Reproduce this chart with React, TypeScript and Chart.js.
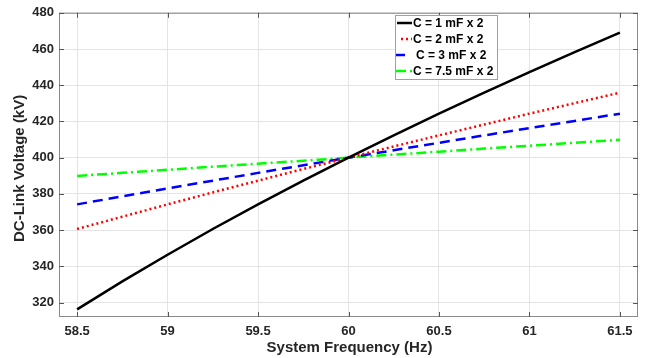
import React, { useEffect, useRef } from "react";
import { Chart, registerables } from "chart.js";

Chart.register(...registerables);

const freq = [58.5, 58.75, 59, 59.25, 59.5, 59.75, 60, 60.25, 60.5, 60.75, 61, 61.25, 61.5];
const c1 = [316.2, 331.7, 346.4, 360.6, 374.2, 387.3, 400, 412.3, 424.3, 435.9, 447.2, 458.3, 469.0];
const c2 = [360.6, 367.4, 374.2, 380.8, 387.3, 393.7, 400, 406.2, 412.3, 418.3, 424.3, 430.1, 435.9];
const c3 = [374.2, 378.6, 383.0, 387.3, 391.6, 395.8, 400, 404.1, 408.2, 412.3, 416.3, 420.3, 424.3];
const c75 = [389.9, 391.6, 393.3, 395.0, 396.7, 398.3, 400, 401.7, 403.3, 405.0, 406.6, 408.2, 409.9];

const seriesLabels = ["C = 1 mF x 2", "C = 2 mF x 2", "C = 3 mF x 2", "C = 7.5 mF x 2"];
const xTicks = [58.5, 59, 59.5, 60, 60.5, 61, 61.5];
const yTicks = [320, 340, 360, 380, 400, 420, 440, 460, 480];
const xTitle = "System Frequency (Hz)";
const yTitle = "DC-Link Voltage (kV)";

const FONT = "'Liberation Sans', Arial, sans-serif";
const colors = ["#000000", "#ff0000", "#0000ff", "#00ff00"];
const dashes = [[], [2, 3], [10, 6], [10, 4, 2, 4]];

const framePlugin = {
  id: "frame",
  afterDraw(chart: any) {
    const { ctx, chartArea: a, scales } = chart;
    ctx.save();
    ctx.strokeStyle = "#8a8a8a";
    ctx.lineWidth = 1;
    ctx.strokeRect(a.left + 0.5, a.top + 0.5, a.right - a.left - 1, a.bottom - a.top - 1);
    ctx.strokeStyle = "#555";
    for (const v of xTicks) {
      const x = Math.round(scales.x.getPixelForValue(v)) + 0.5;
      ctx.beginPath();
      ctx.moveTo(x, a.bottom);
      ctx.lineTo(x, a.bottom - 5);
      ctx.moveTo(x, a.top);
      ctx.lineTo(x, a.top + 5);
      ctx.stroke();
    }
    for (const v of yTicks) {
      const y = Math.round(scales.y.getPixelForValue(v)) + 0.5;
      ctx.beginPath();
      ctx.moveTo(a.left, y);
      ctx.lineTo(a.left + 5, y);
      ctx.moveTo(a.right, y);
      ctx.lineTo(a.right - 5, y);
      ctx.stroke();
    }
    // axis titles
    ctx.fillStyle = "#262626";
    ctx.font = `bold 15px ${FONT}`;
    ctx.textAlign = "center";
    ctx.textBaseline = "middle";
    ctx.fillText(xTitle, (a.left + a.right) / 2 + 1, 348);
    ctx.save();
    ctx.translate(19.5, (a.top + a.bottom) / 2 + 3.5);
    ctx.rotate(-Math.PI / 2);
    ctx.fillText(yTitle, 0, 0);
    ctx.restore();
    // legend
    const bx = 395.5, by = 15.5, bw = 102, bh = 64;
    ctx.fillStyle = "#ffffff";
    ctx.fillRect(bx, by, bw, bh);
    ctx.strokeStyle = "#a0a0a0";
    ctx.lineWidth = 1;
    ctx.strokeRect(bx, by, bw, bh);
    ctx.font = `bold 12px ${FONT}`;
    ctx.textBaseline = "middle";
    ctx.textAlign = "left";
    const rows = [23, 39, 55, 71];
    const samples = [[397, 412], [401, 412], [396, 405], [396, 412]];
    const textX = [413, 413, 416, 413];
    seriesLabels.forEach((lab, i) => {
      ctx.strokeStyle = colors[i];
      ctx.lineWidth = 2.5;
      ctx.setLineDash(dashes[i]);
      ctx.beginPath();
      ctx.moveTo(samples[i][0], rows[i]);
      ctx.lineTo(samples[i][1], rows[i]);
      ctx.stroke();
      ctx.setLineDash([]);
      ctx.fillStyle = "#000";
      ctx.fillText(lab, textX[i], rows[i] + 0.5);
    });
    ctx.restore();
  },
};

export default function App() {
  const ref = useRef<HTMLCanvasElement>(null);
  useEffect(() => {
    if (!ref.current) return;
    const all = [c1, c2, c3, c75];
    const chart = new Chart(ref.current, {
      type: "line",
      data: {
        datasets: all.map((vals, i) => ({
          label: seriesLabels[i],
          data: freq.map((f, j) => ({ x: f, y: vals[j] })),
          borderColor: colors[i],
          borderWidth: 2.5,
          borderDash: dashes[i],
          pointRadius: 0,
          fill: false,
          tension: 0,
        })),
      },
      options: {
        animation: false,
        responsive: false,
        maintainAspectRatio: false,
        layout: { padding: { top: 11, right: 12, left: 0, bottom: 0 } },
        plugins: { legend: { display: false }, tooltip: { enabled: false } },
        scales: {
          x: {
            type: "linear",
            min: 58.4,
            max: 61.6,
            afterBuildTicks: (s: any) => { s.ticks = xTicks.map((v) => ({ value: v })); },
            afterFit: (s: any) => { s.height = 41; },
            grid: { color: "#e4e4e4", drawTicks: false, tickLength: 0 },
            border: { display: false },
            ticks: {
              padding: 7,
              color: "#262626",
              font: { family: FONT, size: 13, weight: "bold" },
              maxRotation: 0,
              autoSkip: false,
              callback: (v: any) => String(v),
            },
          },
          y: {
            type: "linear",
            min: 312,
            max: 480,
            afterBuildTicks: (s: any) => { s.ticks = yTicks.map((v) => ({ value: v })); },
            afterFit: (s: any) => { s.width = 59; },
            grid: { color: "#e4e4e4", drawTicks: false, tickLength: 0 },
            border: { display: false },
            ticks: {
              padding: 5,
              color: "#262626",
              font: { family: FONT, size: 13, weight: "bold" },
              autoSkip: false,
              callback: (v: any) => String(v),
            },
          },
        },
      },
      plugins: [framePlugin],
    });
    return () => chart.destroy();
  }, []);
  return (
    <div style={{ position: "absolute", left: 0, top: 0, width: 650, height: 358, background: "#fff" }}>
      <canvas ref={ref} width={650} height={358} style={{ width: 650, height: 358 }} />
    </div>
  );
}
